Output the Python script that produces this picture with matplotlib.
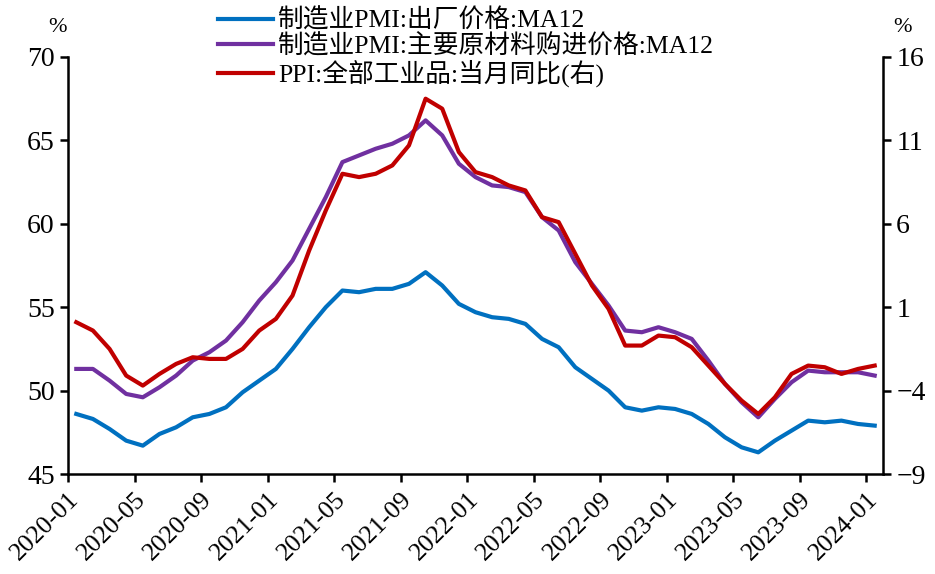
import numpy as np
import matplotlib
matplotlib.use('Agg')
import matplotlib.pyplot as plt

plt.rcParams['font.family'] = ['Liberation Serif', 'Noto Sans CJK SC']

months = ['2020-01', '2020-02', '2020-03', '2020-04', '2020-05', '2020-06', '2020-07', '2020-08',
          '2020-09', '2020-10', '2020-11', '2020-12', '2021-01', '2021-02', '2021-03', '2021-04',
          '2021-05', '2021-06', '2021-07', '2021-08', '2021-09', '2021-10', '2021-11', '2021-12',
          '2022-01', '2022-02', '2022-03', '2022-04', '2022-05', '2022-06', '2022-07', '2022-08',
          '2022-09', '2022-10', '2022-11', '2022-12', '2023-01', '2023-02', '2023-03', '2023-04',
          '2023-05', '2023-06', '2023-07', '2023-08', '2023-09', '2023-10', '2023-11', '2023-12',
          '2024-01']

pmi_output = [48.6, 48.3, 47.7, 47.0, 46.7, 47.4, 47.8, 48.4, 48.6, 49.0, 49.9, 50.6, 51.3,
              52.5, 53.8, 55.0, 56.0, 55.9, 56.1, 56.1, 56.4, 57.1, 56.3, 55.2, 54.7, 54.4,
              54.3, 54.0, 53.1, 52.6, 51.4, 50.7, 50.0, 49.0, 48.8, 49.0, 48.9, 48.6, 48.0,
              47.2, 46.6, 46.3, 47.0, 47.6, 48.2, 48.1, 48.2, 48.0, 47.9]

pmi_input = [51.3, 51.3, 50.6, 49.8, 49.6, 50.2, 50.9, 51.8, 52.3, 53.0, 54.1, 55.4, 56.5,
             57.8, 59.7, 61.6, 63.7, 64.1, 64.5, 64.8, 65.3, 66.2, 65.3, 63.6, 62.8, 62.3,
             62.2, 61.9, 60.4, 59.6, 57.7, 56.4, 55.1, 53.6, 53.5, 53.8, 53.5, 53.1, 51.8,
             50.4, 49.3, 48.4, 49.5, 50.5, 51.2, 51.1, 51.1, 51.1, 50.9]

ppi = [0.1, -0.4, -1.5, -3.1, -3.7, -3.0, -2.4, -2.0, -2.1, -2.1, -1.5, -0.4, 0.3, 1.7, 4.4,
       6.8, 9.0, 8.8, 9.0, 9.5, 10.7, 13.5, 12.9, 10.3, 9.1, 8.8, 8.3, 8.0, 6.4, 6.1, 4.2,
       2.3, 0.9, -1.3, -1.3, -0.7, -0.8, -1.4, -2.5, -3.6, -4.6, -5.4, -4.4, -3.0, -2.5,
       -2.6, -3.0, -2.7, -2.5]

x = np.arange(len(months)) + 0.5

fig = plt.figure(figsize=(9.35, 5.74), dpi=100)
ax = fig.add_axes([0.0727, 0.1742, 0.8717, 0.7265])
ax2 = ax.twinx()

l1, = ax.plot(x, pmi_output, color='#0070C0', lw=3.0, label='制造业PMI:出厂价格:MA12')
l2, = ax.plot(x, pmi_input, color='#7030A0', lw=3.0, label='制造业PMI:主要原材料购进价格:MA12')
l3, = ax2.plot(x, ppi, color='#C00000', lw=3.0, label='PPI:全部工业品:当月同比(右)')

ax.set_xlim(0, 49)
ax.set_ylim(45, 70)
ax.set_yticks(np.arange(45, 71, 5))
ax2.set_ylim(-9, 16)
ax2.set_yticks(np.arange(-9, 17, 5))

ticks = np.arange(0, 49, 4)
ax.set_xticks(ticks)
ax.set_xticklabels([months[i] for i in ticks], rotation=45, ha='right',
                   rotation_mode='anchor')

for a in (ax, ax2):
    a.spines['top'].set_visible(False)
    for s in ('left', 'right', 'bottom'):
        a.spines[s].set_linewidth(1.8)
    a.tick_params(axis='both', direction='out', length=6, width=1.8, labelsize=20)
ax.spines['right'].set_visible(False)
ax2.spines['left'].set_visible(False)
ax2.spines['bottom'].set_visible(False)
ax.tick_params(axis='x', labelsize=18.5, pad=4)

fig.text(0.061, 0.952, '%', fontsize=16, ha='center', va='center')
fig.text(0.965, 0.952, '%', fontsize=16, ha='center', va='center')

fig.legend(handles=[l1, l2, l3], loc='upper left', bbox_to_anchor=(0.222, 1.003),
           frameon=False, fontsize=18.5, handlelength=2.15, handletextpad=0.2,
           labelspacing=0.05, borderaxespad=0)

fig.savefig('out.png', dpi=100)
